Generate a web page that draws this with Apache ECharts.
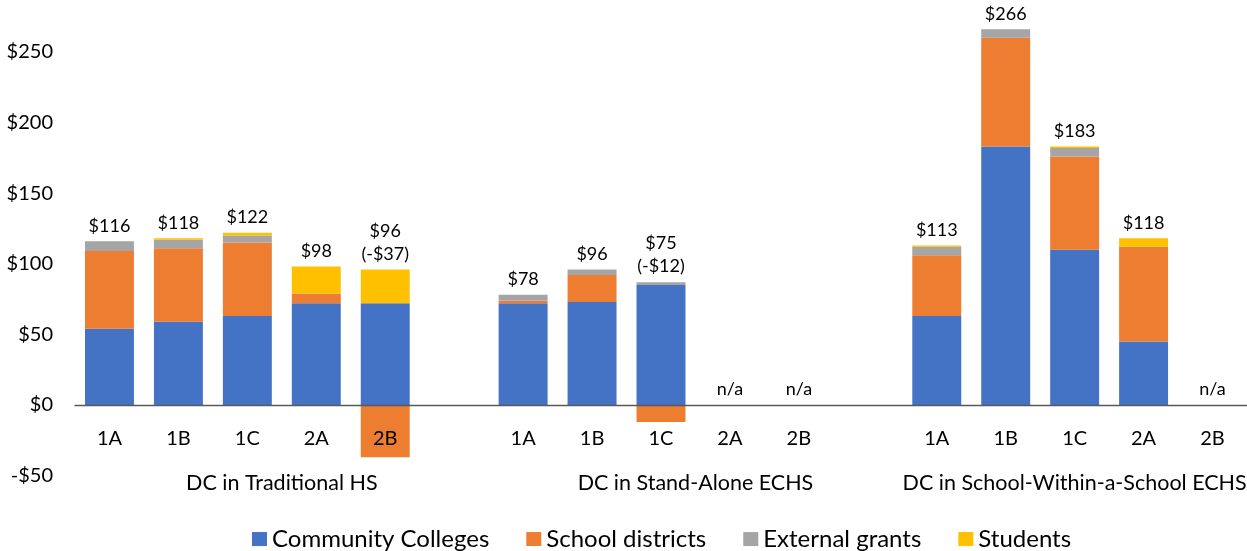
<!DOCTYPE html>
<html>
  <head>
    <title>Dual Credit Cost Shares</title>
    <style>
      html, body {
        margin: 0;
        padding: 0;
        width: 100%;
        height: 100%;
        background: #fff;
      }
      #container {
        width: 1247px;
        height: 551px;
      }
    </style>
  </head>
  <body>
    <div id="container"></div>
    <script src="https://cdn.jsdelivr.net/npm/echarts@6/dist/echarts.min.js"></script>
    <script type="text/javascript">

      // 17 slots: three groups of five models, with an empty slot between groups
      const categories = ['1A', '1B', '1C', '2A', '2B', '',
                          '1A', '1B', '1C', '2A', '2B', '',
                          '1A', '1B', '1C', '2A', '2B'];

      const groupNames = ['DC in Traditional HS', 'DC in Stand-Alone ECHS', 'DC in School-Within-a-School ECHS'];
      // centre of each group, in slot units
      const groupCentres = [3, 9, 14.5];

      const communityColleges = [54, 59, 63, 72, 72, '-', 72, 73, 85, null, null, '-', 63, 183, 110, 45, null];
      const schoolDistricts   = [55, 52, 52, 7, -37, '-', 2, 19, -12, null, null, '-', 43, 77, 66, 67, null];
      const externalGrants    = [7, 6, 5, 0, 0, '-', 4, 4, 2, null, null, '-', 6, 6, 6, 0, null];
      const students          = [0, 1, 2, 19, 24, '-', 0, 0, 0, 0, 0, '-', 1, 0, 1, 6, 0];

      const totalLabels = ['$116', '$118', '$122', '$98', '$96\n(-$37)', '',
                           '$78', '$96', '$75\n(-$12)', 'n/a', 'n/a', '',
                           '$113', '$266', '$183', '$118', 'n/a'];

      const FONT = 'Lato';

      const makeSeries = (name, data, color, withLabel) => {
        const s = {
          name: name,
          type: 'bar',
          stack: 'cost',
          data: data,
          barCategoryGap: '29%',
          itemStyle: { color: color },
          emphasis: { disabled: true }
        };
        if (withLabel) {
          s.label = {
            show: true,
            position: 'top',
            distance: 4,
            color: '#000',
            fontFamily: FONT,
            fontSize: 18,
            lineHeight: 23,
            formatter: p => totalLabels[p.dataIndex]
          };
        }
        return s;
      };

      const initializeChart = () => {
        const chart = echarts.init(document.getElementById('container'));

        chart.setOption({
          animation: false,
          textStyle: { fontFamily: FONT },
          grid: { left: 75, right: 0, top: 9.6, bottom: 75.4, outerBoundsMode: 'none' },
          legend: {
            top: 521,
            left: 252,
            padding: 0,
            icon: 'rect',
            itemWidth: 15,
            itemHeight: 14,
            itemGap: 37,
            textStyle: { fontFamily: FONT, fontSize: 24, color: '#000' },
            data: ['Community Colleges', 'School districts', 'External grants', 'Students']
          },
          xAxis: [
            {
              type: 'category',
              data: categories,
              position: 'bottom',
              z: 10,
              // sit the axis on the $0 line (70.6 px above the plot bottom)
              offset: -70.6,
              axisLine: { onZero: false, lineStyle: { color: '#595959', width: 1.3 } },
              axisTick: { show: false },
              axisLabel: {
                interval: 0,
                margin: 19,
                color: '#000',
                fontFamily: FONT,
                fontSize: 20
              }
            },
            {
              type: 'value',
              position: 'bottom',
              min: 0,
              max: 17,
              axisLine: { show: false, onZero: false },
              axisTick: { show: false },
              splitLine: { show: false },
              axisLabel: {
                customValues: groupCentres,
                margin: -9,
                color: '#000',
                fontFamily: FONT,
                fontSize: 21.5,
                formatter: v => groupNames[groupCentres.indexOf(v)] || ''
              }
            }
          ],
          yAxis: {
            type: 'value',
            min: -50,
            max: 280,
            interval: 50,
            axisLine: { show: false },
            axisTick: { show: false },
            splitLine: { show: false },
            axisLabel: {
              margin: 22,
              color: '#000',
              fontFamily: FONT,
              fontSize: 20,
              formatter: v => (v % 50 !== 0 ? '' : (v < 0 ? '-$' + Math.abs(v) : '$' + v))
            }
          },
          series: [
            makeSeries('Community Colleges', communityColleges, '#4472C4', false),
            makeSeries('School districts', schoolDistricts, '#ED7D31', false),
            makeSeries('External grants', externalGrants, '#A5A5A5', false),
            makeSeries('Students', students, '#FFC000', true)
          ]
        });
      };

      document.addEventListener('DOMContentLoaded', initializeChart);
    </script>
  </body>
</html>
